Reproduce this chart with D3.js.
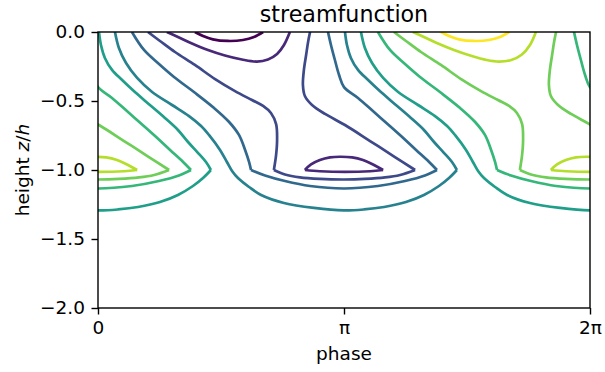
<!DOCTYPE html>
<html>
<head>
<meta charset="utf-8">
<script src="https://cdn.jsdelivr.net/npm/d3@7"></script>
<style>
  html, body { margin: 0; padding: 0; background: #fff; }
  svg text { font-family: "DejaVu Sans", sans-serif; }
</style>
</head>
<body>
<svg id="chart" width="605" height="372"></svg>
<script>
// ---- data (phase in units of pi, height z/h) ----
const xTickValues = [0, 1, 2];            // phase / pi
const xTickLabels = ["0", "π", "2π"];
const yTickValues = [0, -0.5, -1, -1.5, -2];
const levelIndex = [0, 1, 2, 3, 4, 5, 6, 7, 8, 9];

// contour level 0 (lowest)
const level0 = [
  [[0.394,0],[0.427,-0.029],[0.467,-0.053],[0.528,-0.065],[0.589,-0.058],[0.634,-0.036],[0.671,0]]
];
const level1 = [
  [[0.280,0],[0.325,-0.036],[0.382,-0.083],[0.447,-0.130],[0.516,-0.170],[0.585,-0.199],[0.646,-0.214],[0.691,-0.199],[0.728,-0.159],[0.756,-0.094],[0.780,0]],
  [[0.841,-1],[0.866,-0.960],[0.902,-0.928],[0.943,-0.909],[0.984,-0.904],[1.033,-0.909],[1.077,-0.928],[1.118,-0.960],[1.159,-1]],
  [[1.159,-1],[1.106,-1.009],[1.004,-1.014],[0.902,-1.009],[0.841,-1]]
];
const level2 = [
  [[0.203,0],[0.252,-0.065],[0.313,-0.145],[0.394,-0.239],[0.476,-0.341],[0.557,-0.428],[0.626,-0.493],[0.671,-0.536],[0.703,-0.587],[0.724,-0.667],[0.728,-0.783],[0.724,-0.891],[0.715,-1]],
  [[0.715,-1],[0.760,-1.033],[0.821,-1.054],[0.902,-1.065],[1.0,-1.069],[1.085,-1.065],[1.167,-1.054],[1.228,-1.036],[1.289,-1]],
  [[1.289,-1],[1.207,-0.906],[1.106,-0.790],[1.004,-0.674],[0.923,-0.594],[0.870,-0.529],[0.841,-0.464],[0.833,-0.384],[0.837,-0.275],[0.846,-0.167],[0.854,-0.072],[0.862,0]]
];
const level3 = [
  [[0.138,0],[0.187,-0.130],[0.248,-0.232],[0.309,-0.326],[0.390,-0.435],[0.472,-0.551],[0.533,-0.652],[0.573,-0.746],[0.598,-0.855],[0.614,-0.942],[0.622,-1]],
  [[0.622,-1],[0.679,-1.040],[0.760,-1.080],[0.862,-1.116],[1.0,-1.134],[1.138,-1.116],[1.248,-1.080],[1.329,-1.040],[1.378,-1]],
  [[1.378,-1],[1.346,-0.942],[1.293,-0.855],[1.232,-0.754],[1.191,-0.688],[1.122,-0.580],[1.057,-0.478],[1.0,-0.399],[0.980,-0.312],[0.963,-0.203],[0.947,-0.094],[0.935,0]]
];
const level4 = [
  [[0.069,0],[0.085,-0.116],[0.114,-0.225],[0.159,-0.333],[0.220,-0.435],[0.301,-0.529],[0.370,-0.609],[0.419,-0.681],[0.451,-0.746],[0.496,-0.855],[0.524,-0.942],[0.545,-1.007],[0.569,-1.058],[0.614,-1.123],[0.663,-1.181],[0.756,-1.239],[0.878,-1.275],[1.0,-1.293],[1.081,-1.286],[1.163,-1.268],[1.252,-1.232],[1.325,-1.181],[1.386,-1.116],[1.427,-1.058],[1.459,-1]],
  [[1.459,-1],[1.439,-0.942],[1.407,-0.877],[1.366,-0.797],[1.325,-0.710],[1.272,-0.623],[1.211,-0.529],[1.150,-0.435],[1.098,-0.348],[1.057,-0.275],[1.028,-0.188],[1.012,-0.094],[1.004,0]]
];
const level5 = [
  [[1.069,0],[1.085,-0.116],[1.114,-0.225],[1.159,-0.333],[1.220,-0.435],[1.301,-0.529],[1.370,-0.609],[1.419,-0.681],[1.451,-0.746],[1.496,-0.855],[1.524,-0.942],[1.545,-1.007],[1.569,-1.058],[1.614,-1.123],[1.663,-1.181],[1.756,-1.239],[1.878,-1.275],[2.0,-1.293],[2.081,-1.286],[2.163,-1.268],[2.252,-1.232],[2.325,-1.181],[2.386,-1.116],[2.427,-1.058],[2.459,-1]],
  [[2.459,-1],[2.439,-0.942],[2.407,-0.877],[2.366,-0.797],[2.325,-0.710],[2.272,-0.623],[2.211,-0.529],[2.150,-0.435],[2.098,-0.348],[2.057,-0.275],[2.028,-0.188],[2.012,-0.094],[2.004,0]]
];
const level6 = [
  [[1.138,0],[1.187,-0.130],[1.248,-0.232],[1.309,-0.326],[1.390,-0.435],[1.472,-0.551],[1.533,-0.652],[1.573,-0.746],[1.598,-0.855],[1.614,-0.942],[1.622,-1]],
  [[1.622,-1],[1.679,-1.040],[1.760,-1.080],[1.862,-1.116],[2.0,-1.134],[2.138,-1.116],[2.248,-1.080],[2.329,-1.040],[2.378,-1]],
  [[2.378,-1],[2.346,-0.942],[2.293,-0.855],[2.232,-0.754],[2.191,-0.688],[2.122,-0.580],[2.057,-0.478],[2.0,-0.399],[1.980,-0.312],[1.963,-0.203],[1.947,-0.094],[1.935,0]]
];
const level7 = [
  [[1.203,0],[1.252,-0.065],[1.313,-0.145],[1.394,-0.239],[1.476,-0.341],[1.557,-0.428],[1.626,-0.493],[1.671,-0.536],[1.703,-0.587],[1.724,-0.667],[1.728,-0.783],[1.724,-0.891],[1.715,-1]],
  [[1.715,-1],[1.760,-1.033],[1.821,-1.054],[1.902,-1.065],[2.0,-1.069],[2.085,-1.065],[2.167,-1.054],[2.228,-1.036],[2.289,-1]],
  [[2.289,-1],[2.207,-0.906],[2.106,-0.790],[2.004,-0.674],[1.923,-0.594],[1.870,-0.529],[1.841,-0.464],[1.833,-0.384],[1.837,-0.275],[1.846,-0.167],[1.854,-0.072],[1.862,0]]
];
const level8 = [
  [[1.280,0],[1.325,-0.036],[1.382,-0.083],[1.447,-0.130],[1.516,-0.172],[1.580,-0.203],[1.630,-0.214],[1.680,-0.203],[1.722,-0.165],[1.756,-0.094],[1.780,0]],
  [[1.841,-1],[1.866,-0.960],[1.902,-0.928],[1.943,-0.909],[1.984,-0.904],[2.033,-0.909],[2.077,-0.928],[2.118,-0.960],[2.159,-1]],
  [[2.159,-1],[2.106,-1.009],[2.004,-1.014],[1.902,-1.009],[1.841,-1]]
];
// contour level 9 (highest)
const level9 = [
  [[1.394,0],[1.427,-0.029],[1.467,-0.053],[1.528,-0.065],[1.589,-0.058],[1.634,-0.036],[1.671,0]]
];
const contourLevels = [level0, level1, level2, level3, level4, level5, level6, level7, level8, level9];

// ---- layout ----
const svg = d3.select("#chart");
const margin = {left: 98, top: 32, right: 15, bottom: 64};
const W = 605, H = 372;
const iw = W - margin.left - margin.right;   // 492
const ih = H - margin.top - margin.bottom;   // 276

const x = d3.scaleLinear().domain([0, 2 * Math.PI]).range([0, iw]);
const y = d3.scaleLinear().domain([-2, 0]).range([ih, 0]);
const color = d3.scaleSequential(d3.interpolateViridis).domain([0, 9]);

const g = svg.append("g").attr("transform", `translate(${margin.left},${margin.top})`);

svg.append("defs").append("clipPath").attr("id", "clip")
  .append("rect").attr("x", 0).attr("y", 0).attr("width", iw).attr("height", ih);

const plot = g.append("g").attr("clip-path", "url(#clip)");

const periods = [0, -1]; // periodic copies in phase (units of 2pi)
contourLevels.forEach((segments, li) => {
  periods.forEach(k => {
    const line = d3.line()
      .x(d => x(d[0] * Math.PI + k * 2 * Math.PI))
      .y(d => y(d[1]))
      .curve(d3.curveCatmullRom.alpha(0.5));
    plot.selectAll(null)
      .data(segments)
      .enter().append("path")
      .attr("d", line)
      .attr("fill", "none")
      .attr("stroke", color(levelIndex[li]))
      .attr("stroke-width", 2.7)
      .attr("stroke-linecap", "butt")
      .attr("stroke-linejoin", "miter");
  });
});

// axes
const fs = 18.5;
const xAxis = d3.axisBottom(x)
  .tickValues(xTickValues.map(v => v * Math.PI))
  .tickFormat((d, i) => xTickLabels[i])
  .tickSize(6.5).tickPadding(6.5).tickSizeOuter(0);
const yAxis = d3.axisLeft(y)
  .tickValues(yTickValues)
  .tickFormat(d3.format(".1f"))
  .tickSize(6.5).tickPadding(6.5).tickSizeOuter(0);

const gx = g.append("g").attr("transform", `translate(0,${ih})`).call(xAxis);
const gy = g.append("g").call(yAxis);
[gx, gy].forEach(a => {
  a.select(".domain").remove();
  a.selectAll("line").attr("stroke", "#000").attr("stroke-width", 1.4);
  a.selectAll("text").attr("font-size", fs).attr("fill", "#000")
    .style("font-family", "'DejaVu Sans', sans-serif");
});

// frame
g.append("rect").attr("x", 0).attr("y", 0).attr("width", iw).attr("height", ih)
  .attr("fill", "none").attr("stroke", "#000").attr("stroke-width", 1.4);

// labels
svg.append("text").attr("x", margin.left + iw / 2).attr("y", 22)
  .attr("text-anchor", "middle").attr("font-size", 22.2).text("streamfunction");
svg.append("text").attr("x", margin.left + iw / 2).attr("y", 360)
  .attr("text-anchor", "middle").attr("font-size", fs).text("phase");
const yl = svg.append("text")
  .attr("transform", `translate(29,${margin.top + ih / 2}) rotate(-90)`)
  .attr("text-anchor", "middle").attr("font-size", fs);
yl.append("tspan").text("height ");
yl.append("tspan").attr("font-style", "italic").text("z");
yl.append("tspan").text("/");
yl.append("tspan").attr("font-style", "italic").text("h");
</script>
</body>
</html>
